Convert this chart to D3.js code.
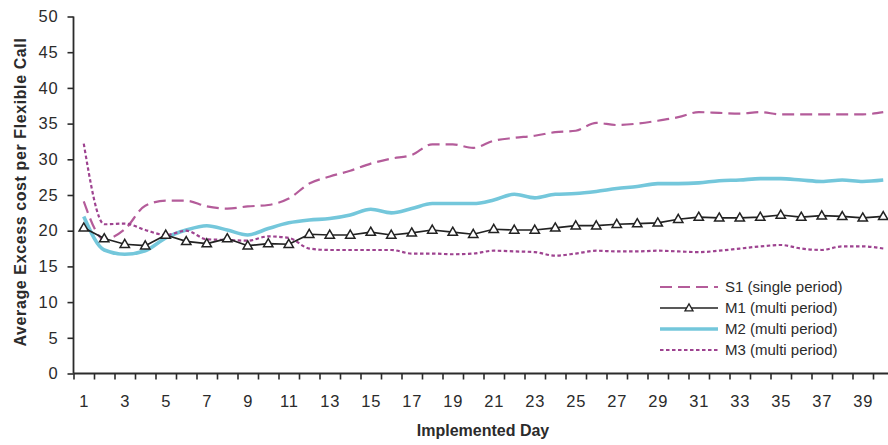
<!DOCTYPE html>
<html>
<head>
<meta charset="utf-8">
<script src="https://cdn.jsdelivr.net/npm/d3@7"></script>
<style>
  html, body { margin: 0; padding: 0; background: #fff; }
  svg { display: block; }
  text { font-family: "Liberation Sans", Arial, sans-serif; fill: #2b2b2b; }
</style>
</head>
<body>
<svg id="chart" width="888" height="445"></svg>
<script>
// Implemented days 1..40
const days = d3.range(1, 41);
const yTicks = [0, 5, 10, 15, 20, 25, 30, 35, 40, 45, 50];
const xTickLabels = d3.range(1, 40, 2);

// Average excess cost per flexible call, per implemented day
const s1 = [24.1, 18.8, 20.2, 23.5, 24.2, 24.2, 23.4, 23.1, 23.4, 23.6,
            24.5, 26.6, 27.6, 28.4, 29.4, 30.1, 30.6, 32.1, 32.1, 31.6,
            32.6, 33.0, 33.3, 33.8, 34.0, 35.1, 34.8, 35.0, 35.4, 35.9,
            36.6, 36.5, 36.4, 36.6, 36.3, 36.3, 36.3, 36.3, 36.3, 36.6];
const m1 = [20.4, 18.9, 18.1, 17.9, 19.4, 18.5, 18.2, 18.9, 17.9, 18.2,
            18.1, 19.5, 19.4, 19.4, 19.8, 19.4, 19.7, 20.1, 19.8, 19.5,
            20.2, 20.1, 20.1, 20.4, 20.7, 20.7, 20.9, 21.0, 21.1, 21.6,
            21.9, 21.8, 21.8, 21.9, 22.2, 21.9, 22.1, 22.0, 21.8, 22.0];
const m2 = [22.0, 17.3, 16.7, 17.2, 19.0, 20.1, 20.7, 20.1, 19.4, 20.3,
            21.1, 21.5, 21.7, 22.2, 23.0, 22.5, 23.1, 23.8, 23.8, 23.8,
            24.3, 25.1, 24.6, 25.1, 25.2, 25.5, 25.9, 26.2, 26.6, 26.6,
            26.7, 27.0, 27.1, 27.3, 27.3, 27.1, 26.9, 27.1, 26.9, 27.1];
const m3 = [32.2, 20.9, 21.0, 20.1, 19.4, 20.0, 18.8, 18.7, 18.6, 19.2,
            19.0, 17.5, 17.3, 17.3, 17.3, 17.3, 16.8, 16.8, 16.7, 16.8,
            17.2, 17.1, 17.0, 16.5, 16.8, 17.2, 17.1, 17.1, 17.2, 17.1,
            17.0, 17.2, 17.5, 17.8, 18.0, 17.5, 17.3, 17.8, 17.8, 17.5];

const seriesNames = ["S1 (single period)", "M1 (multi period)", "M2 (multi period)", "M3 (multi period)"];

const series = [
  { name: seriesNames[0], values: s1, color: "#b45c9a", width: 2.2, dash: "12,6", smooth: true },
  { name: seriesNames[1], values: m1, color: "#222222", width: 1.7, dash: null, smooth: false, marker: true },
  { name: seriesNames[2], values: m2, color: "#74c7db", width: 3.6, dash: null, smooth: true },
  { name: seriesNames[3], values: m3, color: "#9e4390", width: 2.2, dash: "3.5,2.5", smooth: true }
];

const svg = d3.select("#chart");

// Categories sit between tick marks: boundaries at n - 0.5
const x = d3.scaleLinear().domain([0.5, 40.5]).range([73.5, 893.5]);
const y = d3.scaleLinear().domain([0, 50]).range([373.5, 16.5]);

// Y axis
const yAxis = svg.append("g")
  .attr("transform", `translate(${x(0.5)},0)`)
  .call(d3.axisLeft(y).tickValues(yTicks).tickSize(6).tickPadding(9).tickFormat(d3.format("d")));
yAxis.select(".domain").attr("stroke", "#2b2b2b").attr("stroke-width", 1.8).attr("d", `M0,${y(50)}V${y(0)}`);
yAxis.selectAll(".tick line").attr("stroke", "#2b2b2b").attr("stroke-width", 1.6);
yAxis.selectAll(".tick text").attr("font-size", 16.5).attr("fill", "#262626")
  .style("letter-spacing", "0.8px");

// X axis: tick marks at category boundaries
const xAxis = svg.append("g")
  .attr("transform", `translate(0,${y(0)})`)
  .call(d3.axisBottom(x).tickValues(d3.range(0.5, 40.5, 1)).tickSize(6).tickFormat(""));
xAxis.select(".domain").attr("stroke", "#2b2b2b").attr("stroke-width", 1.8).attr("d", `M${x(0.5)},0H888`);
xAxis.selectAll(".tick line").attr("stroke", "#2b2b2b").attr("stroke-width", 1.6);

// X labels centred on odd days
const xLabels = svg.append("g")
  .attr("transform", `translate(0,${y(0)})`)
  .call(d3.axisBottom(x).tickValues(xTickLabels).tickSize(0).tickPadding(22).tickFormat(d3.format("d")));
xLabels.select(".domain").remove();
xLabels.selectAll(".tick text").attr("font-size", 16.5).attr("fill", "#262626")
  .style("letter-spacing", "0.8px");

// Axis titles
svg.append("text")
  .attr("x", 483).attr("y", 436)
  .attr("text-anchor", "middle")
  .attr("font-size", 16).attr("font-weight", "bold")
  .text("Implemented Day");

svg.append("text")
  .attr("transform", "translate(26,192) rotate(-90)")
  .attr("text-anchor", "middle")
  .attr("font-size", 16).attr("font-weight", "bold")
  .style("letter-spacing", "0.6px")
  .text("Average Excess cost per Flexible Call");

// Lines
const plot = svg.append("g");
const drawOrder = [2, 0, 3, 1];
drawOrder.forEach(i => {
  const s = series[i];
  const line = d3.line()
    .x((d, k) => x(days[k]))
    .y(d => y(d))
    .curve(s.smooth ? d3.curveMonotoneX : d3.curveLinear);
  plot.append("path")
    .datum(s.values)
    .attr("fill", "none")
    .attr("stroke", s.color)
    .attr("stroke-width", s.width)
    .attr("stroke-dasharray", s.dash)
    .attr("stroke-linejoin", "round")
    .attr("d", line);
  if (s.marker) {
    plot.selectAll(null)
      .data(s.values)
      .join("path")
      .attr("transform", (d, k) => `translate(${x(days[k])},${y(d) + 0.5})`)
      .attr("d", d3.symbol(d3.symbolTriangle, 38))
      .attr("fill", "#fff")
      .attr("stroke", "#222")
      .attr("stroke-width", 1.5);
  }
});

// Legend
const legend = svg.append("g").attr("transform", "translate(660,287)");
series.forEach((s, i) => {
  const g = legend.append("g").attr("transform", `translate(0,${i * 21})`);
  g.append("line")
    .attr("x1", 0).attr("x2", 58).attr("y1", 0).attr("y2", 0)
    .attr("stroke", s.color)
    .attr("stroke-width", s.width)
    .attr("stroke-dasharray", s.dash);
  if (s.marker) {
    g.append("path")
      .attr("transform", "translate(29,0.5)")
      .attr("d", d3.symbol(d3.symbolTriangle, 28))
      .attr("fill", "#fff").attr("stroke", "#222").attr("stroke-width", 1.3);
  }
  g.append("text")
    .attr("x", 65).attr("y", 0).attr("dy", "0.35em")
    .attr("font-size", 15)
    .attr("fill", "#1a1a1a")
    .text(s.name);
});
</script>
</body>
</html>
